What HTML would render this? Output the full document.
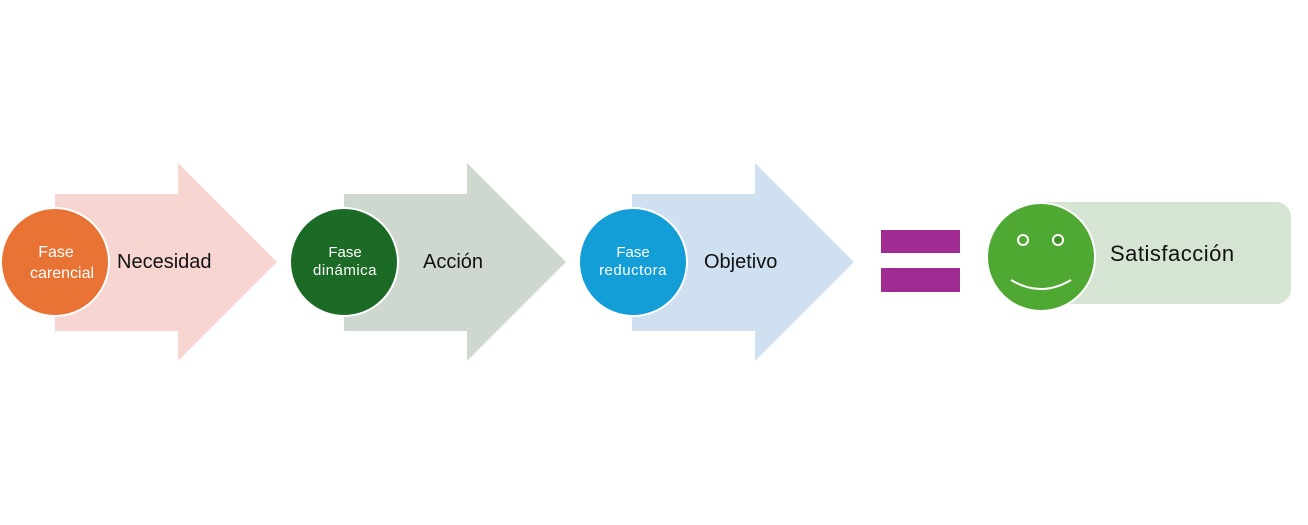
<!DOCTYPE html>
<html><head><meta charset="utf-8"><style>
html,body{margin:0;padding:0;background:#fff;}
svg{display:block;}
text{font-family:"Liberation Sans",sans-serif;}
</style></head><body>
<svg width="1308" height="525" viewBox="0 0 1308 525" xmlns="http://www.w3.org/2000/svg">
<rect width="1308" height="525" fill="#fff"/>
<polygon points="55,194 178,194 178,163 277,262 178,361 178,331 55,331" fill="#f7d5d0"/>
<polygon points="344,194 467,194 467,163 566,262 467,361 467,331 344,331" fill="#cfd8cf"/>
<polygon points="632,194 755,194 755,163 854,262 755,361 755,331 632,331" fill="#cfe0f0"/>
<circle cx="55" cy="262" r="54" fill="#e97334" stroke="#fff" stroke-width="2"/>
<circle cx="344" cy="262" r="54" fill="#1b6b27" stroke="#fff" stroke-width="2"/>
<circle cx="633" cy="262" r="54" fill="#139ed7" stroke="#fff" stroke-width="2"/>
<text x="56" y="257" font-size="16" fill="#fff" text-anchor="middle">Fase</text>
<text x="62" y="278" font-size="16" fill="#fff" text-anchor="middle">carencial</text>
<text x="345" y="257" font-size="15" fill="#fff" text-anchor="middle">Fase</text>
<text x="345" y="275" font-size="15" fill="#fff" text-anchor="middle" letter-spacing="0.5">dinámica</text>
<text x="633" y="257" font-size="15" fill="#fff" text-anchor="middle">Fase</text>
<text x="633" y="275" font-size="15" fill="#fff" text-anchor="middle" letter-spacing="0.5">reductora</text>
<text x="117" y="268" font-size="20" fill="#111">Necesidad</text>
<text x="423" y="268" font-size="20" fill="#111">Acción</text>
<text x="704" y="268" font-size="20" fill="#111">Objetivo</text>
<rect x="881" y="230" width="79" height="23" fill="#a02c93"/>
<rect x="881" y="268" width="79" height="24" fill="#a02c93"/>
<rect x="1030" y="202" width="261" height="102" rx="15" fill="#d6e5d3"/>
<circle cx="1041" cy="257" r="54" fill="#4fa832" stroke="#fff" stroke-width="2"/>
<circle cx="1023" cy="240" r="5" fill="none" stroke="#fff" stroke-width="2"/>
<circle cx="1058" cy="240" r="5" fill="#3f8f27" stroke="#fff" stroke-width="2"/>
<path d="M1011,280 Q1041,298 1071,280" fill="none" stroke="#fff" stroke-width="2"/>
<text x="1110" y="261" font-size="22" fill="#111" letter-spacing="0.5">Satisfacción</text>
</svg>
</body></html>
